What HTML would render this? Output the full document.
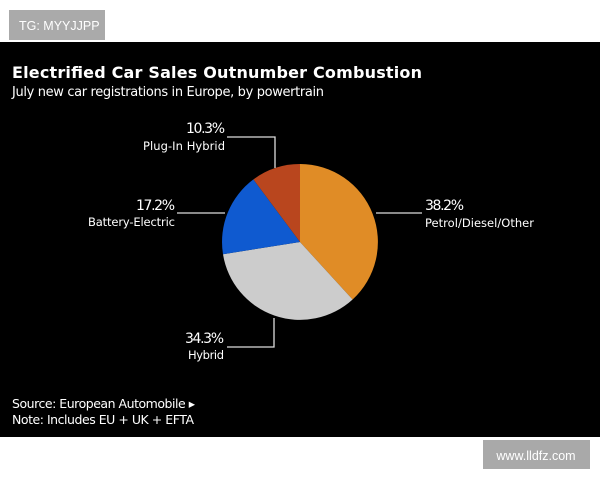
<!DOCTYPE html>
<html><head><meta charset="utf-8"><style>
html,body{margin:0;padding:0;background:#fff;width:600px;height:480px;overflow:hidden;font-family:"DejaVu Sans","Liberation Sans",sans-serif}
</style></head><body>
<svg width="600" height="480" xmlns="http://www.w3.org/2000/svg" style="position:absolute;left:0;top:0">
<rect x="0" y="0" width="600" height="480" fill="#fff"/>
<rect x="9" y="10" width="96" height="30" fill="#aaaaaa"/>
<text x="19" y="30" font-family="Liberation Sans,sans-serif" font-size="12.5" fill="#fff">TG: MYYJJPP</text>
<rect x="0" y="42" width="600" height="395" fill="#000"/>
<text x="12" y="78" font-family="DejaVu Sans,sans-serif" font-weight="bold" font-size="16" fill="#fff" textLength="410">Electrified Car Sales Outnumber Combustion</text>
<text x="12" y="96" font-family="DejaVu Sans,sans-serif" font-size="13" fill="#fff" textLength="312">July new car registrations in Europe, by powertrain</text>
<g stroke="none">
<path d="M300,242 L300,164 A78,78 0 0,1 352.6,299.5 Z" fill="#e08c26"/>
<path d="M300,242 L352.6,299.5 A78,78 0 0,1 223,254.2 Z" fill="#cccccc"/>
<path d="M300,242 L223,254.2 A78,78 0 0,1 253.4,179.4 Z" fill="#0f5ad0"/>
<path d="M300,242 L253.4,179.4 A78,78 0 0,1 300,164 Z" fill="#b9461e"/>
</g>
<g stroke="#ddd" stroke-width="1.3" fill="none">
<polyline points="275,168 275,137 227,137"/>
<polyline points="177,213 225,213"/>
<polyline points="376,213 422,213"/>
<polyline points="274,318 274,347 227,347"/>
</g>
<g font-family="DejaVu Sans,sans-serif" fill="#fff">
<text x="225" y="133" font-size="14" text-anchor="end" textLength="39">10.3%</text>
<text x="225" y="150" font-size="11.5" text-anchor="end" textLength="82">Plug-In Hybrid</text>
<text x="175" y="210" font-size="14" text-anchor="end" textLength="39">17.2%</text>
<text x="175" y="226" font-size="11.5" text-anchor="end" textLength="87">Battery-Electric</text>
<text x="425" y="210" font-size="14" textLength="39">38.2%</text>
<text x="425" y="227" font-size="11.5" textLength="109">Petrol/Diesel/Other</text>
<text x="224" y="343" font-size="14" text-anchor="end" textLength="39">34.3%</text>
<text x="224" y="359" font-size="11.5" text-anchor="end" textLength="36">Hybrid</text>
<text x="12" y="408" font-size="12.5" textLength="183">Source: European Automobile ▸</text>
<text x="12" y="424" font-size="12.5" textLength="182">Note: Includes EU + UK + EFTA</text>
</g>
<rect x="483" y="440" width="107" height="29" fill="#a9a9a9"/>
<text x="536" y="460" font-family="Liberation Sans,sans-serif" font-size="12.5" fill="#fff" text-anchor="middle">www.lldfz.com</text>
</svg>
</body></html>
